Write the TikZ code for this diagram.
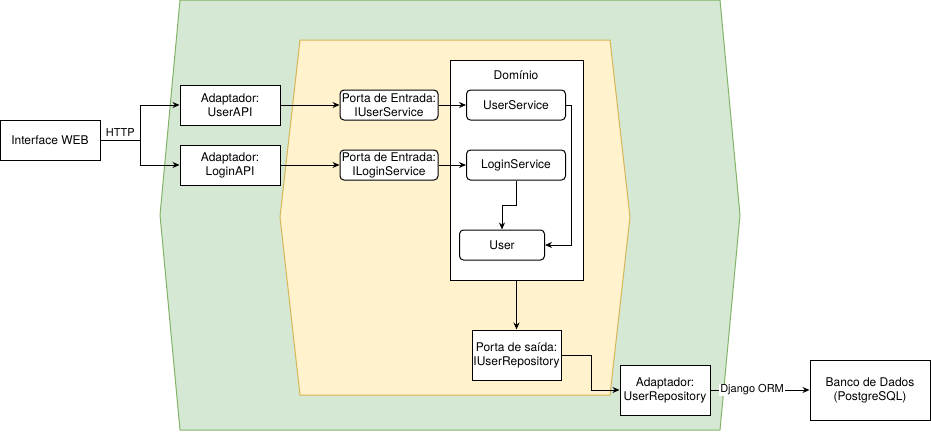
\documentclass[tikz,border=0pt]{standalone}
\usepackage{fontspec}
\setmainfont{TeX Gyre Heros}
\usetikzlibrary{arrows.meta}

\definecolor{camadaext}{HTML}{D5E8D4}
\definecolor{bordaext}{HTML}{82B366}
\definecolor{camadaint}{HTML}{FFF2CC}
\definecolor{bordaint}{HTML}{D6B656}

\begin{document}
\begin{tikzpicture}[x=1pt, y=-1pt, line width=1pt,
    font=\fontsize{12}{14}\selectfont,
    box/.style={draw, fill=white, align=center, inner sep=0pt},
    rbox/.style={box, rounded corners=4pt},
    rotulo/.style={font=\fontsize{11}{13}\selectfont},
    seta/.style={-{Stealth[length=7pt, width=6pt]}}]
  \useasboundingbox (0,0) rectangle (931,431);

  % camadas
  \draw[fill=camadaext, draw=bordaext]
    (180,0) -- (720,0) -- (740,215) -- (720,430) -- (180,430) -- (160,215) -- cycle;
  \draw[fill=camadaint, draw=bordaint]
    (300,40) -- (610,40) -- (630,217) -- (610,395) -- (300,395) -- (280,217) -- cycle;

  \path
    (50,140) node[box, minimum width=100pt, minimum height=40pt](web){Interface WEB}
    (230,105) node[box, minimum width=100pt, minimum height=40pt](uapi){Adaptador:\\UserAPI}
    (230,165) node[box, minimum width=100pt, minimum height=40pt](lapi){Adaptador:\\LoginAPI}
    (389,105) node[rbox, minimum width=98pt, minimum height=30pt](pusr){Porta de Entrada:\\IUserService}
    (389,165) node[rbox, minimum width=98pt, minimum height=30pt](plog){Porta de Entrada:\\ILoginService};

  % dominio
  \path
    (516.5,170) node[box, minimum width=133pt, minimum height=220pt](dom){}
    (516,75) node(domlbl){Domínio}
    (516,105) node[rbox, minimum width=99pt, minimum height=30pt](usvc){UserService}
    (516,165) node[rbox, minimum width=99pt, minimum height=30pt](lsvc){LoginService}
    (502,245) node[rbox, minimum width=85pt, minimum height=30pt](user){User};

  \path
    (516.5,355) node[box, minimum width=89pt, minimum height=50pt](psai){Porta de saída:\\IUserRepository}
    (665,390) node[box, minimum width=90pt, minimum height=50pt](urepo){Adaptador:\\UserRepository}
    (870,390) node[box, minimum width=120pt, minimum height=60pt](db){Banco de Dados\\(PostgreSQL)};

  \coordinate (split) at (140,140);
  \draw (web) -- node[above, inner sep=3pt, rotulo]{HTTP} (split);
  \draw[seta] (split) |- (uapi);
  \draw[seta] (split) |- (lapi);
  \draw[seta] (uapi) -- (pusr);
  \draw[seta] (lapi) -- (plog);
  \draw[seta] (pusr) -- (usvc);
  \draw[seta] (plog) -- (lsvc);
  \draw[seta] (usvc.east) -- ++(5,0) |- (user.east);
  \draw[seta] (lsvc.south) -- ++(0,25) -| (user.north);
  \draw[seta] (dom.south) -- (psai.north);
  \draw[seta] (psai.east) -- ++(30,0) |- (urepo.west);
  \draw[seta] (urepo) -- node[pos=0.42, fill=white, inner sep=1pt, rotulo]{Django ORM} (db);
\end{tikzpicture}
\end{document}
